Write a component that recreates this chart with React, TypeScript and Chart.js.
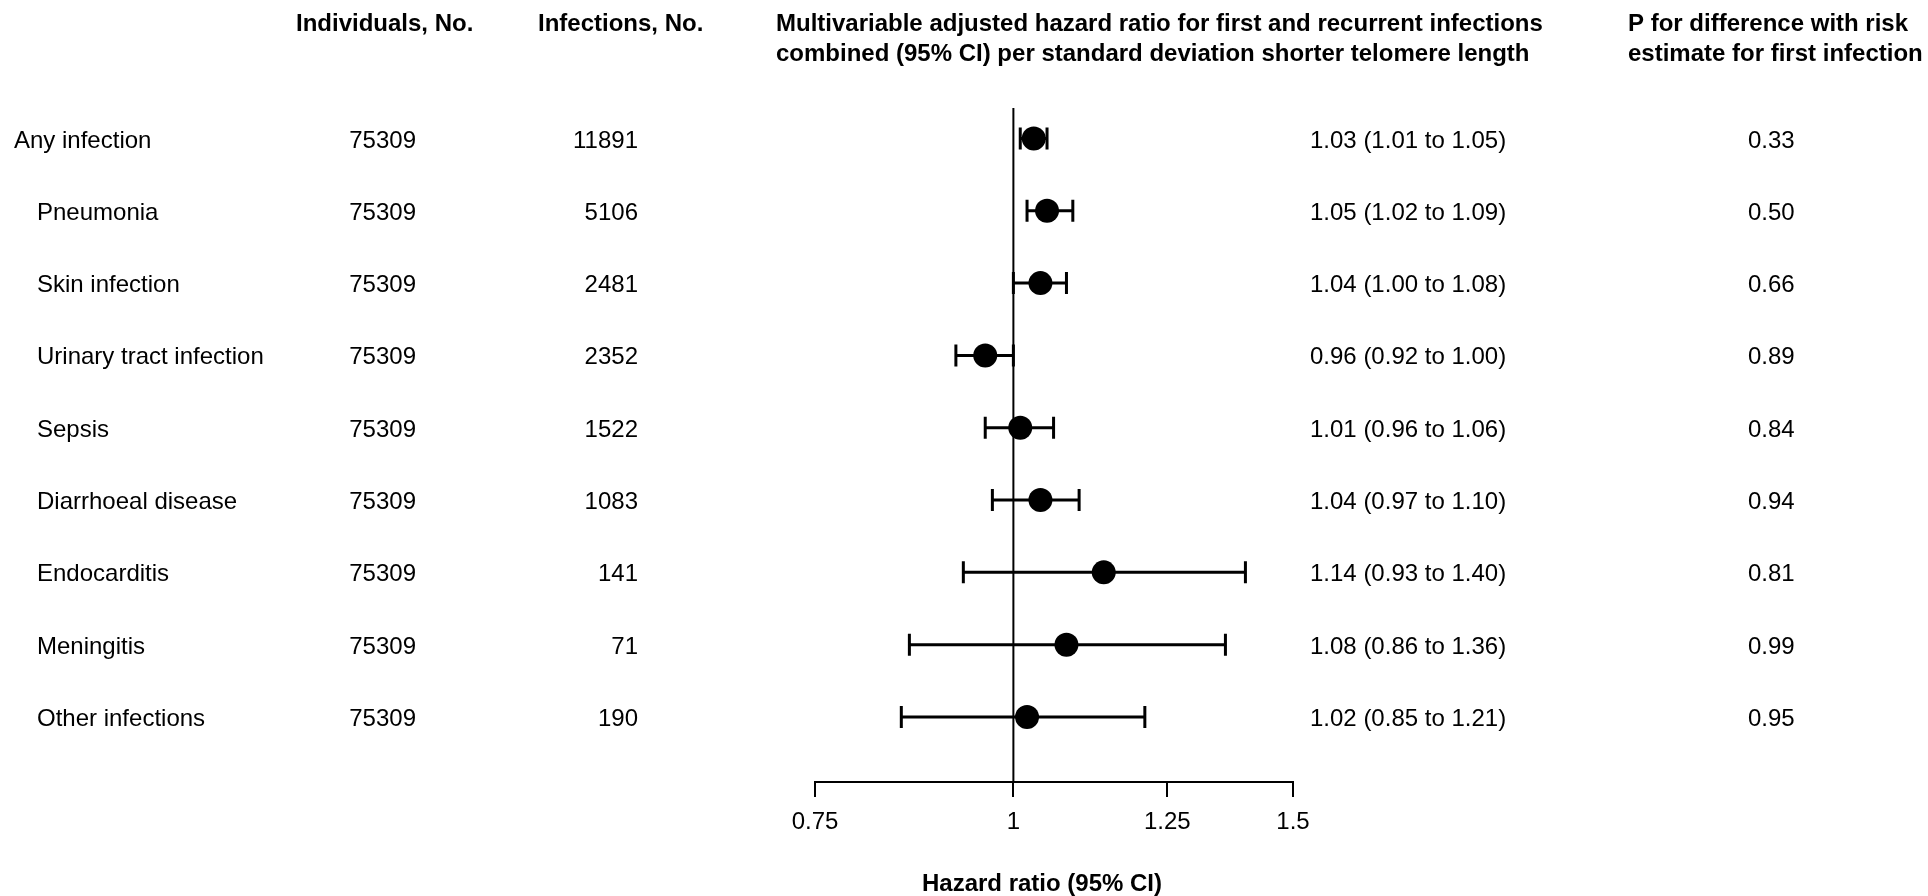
import React, { useEffect, useRef } from "react";
import { Chart, registerables } from "chart.js";

Chart.register(...registerables);

const FONT = '"Liberation Sans", Arial, Helvetica, sans-serif';

const categories = [
  "Any infection",
  "Pneumonia",
  "Skin infection",
  "Urinary tract infection",
  "Sepsis",
  "Diarrhoeal disease",
  "Endocarditis",
  "Meningitis",
  "Other infections",
];
const individuals = [75309, 75309, 75309, 75309, 75309, 75309, 75309, 75309, 75309];
const infections = [11891, 5106, 2481, 2352, 1522, 1083, 141, 71, 190];
const hazardRatio = [1.03, 1.05, 1.04, 0.96, 1.01, 1.04, 1.14, 1.08, 1.02];
const lowerCI = [1.01, 1.02, 1.0, 0.92, 0.96, 0.97, 0.93, 0.86, 0.85];
const upperCI = [1.05, 1.09, 1.08, 1.0, 1.06, 1.1, 1.4, 1.36, 1.21];
const pValues = ["0.33", "0.50", "0.66", "0.89", "0.84", "0.94", "0.81", "0.99", "0.95"];
const xTicks = [0.75, 1, 1.25, 1.5];

export default function App() {
  const ref = useRef<HTMLCanvasElement>(null);

  useEffect(() => {
    const canvas = ref.current;
    if (!canvas) return;

    const errorBarPlugin = {
      id: "errorBars",
      beforeDatasetsDraw(chart: any) {
        const ctx = chart.ctx;
        const xs = chart.scales.x;
        const ys = chart.scales.y;
        const area = chart.chartArea;
        ctx.save();
        ctx.strokeStyle = "#000";
        // reference line at HR = 1
        const x1 = xs.getPixelForValue(1);
        ctx.lineWidth = 2;
        ctx.beginPath();
        ctx.moveTo(x1, area.top);
        ctx.lineTo(x1, area.bottom);
        ctx.stroke();
        // CI bars
        ctx.lineWidth = 3;
        for (let i = 0; i < categories.length; i++) {
          const py = ys.getPixelForValue(i);
          const lo = xs.getPixelForValue(lowerCI[i]);
          const hi = xs.getPixelForValue(upperCI[i]);
          ctx.beginPath();
          ctx.moveTo(lo, py);
          ctx.lineTo(hi, py);
          ctx.moveTo(lo, py - 11);
          ctx.lineTo(lo, py + 11);
          ctx.moveTo(hi, py - 11);
          ctx.lineTo(hi, py + 11);
          ctx.stroke();
        }
        ctx.restore();
      },
    };

    const textPlugin = {
      id: "forestText",
      afterDraw(chart: any) {
        const ctx = chart.ctx;
        const ys = chart.scales.y;
        ctx.save();
        ctx.fillStyle = "#000";
        ctx.textBaseline = "alphabetic";

        // headers
        ctx.font = `bold 24px ${FONT}`;
        ctx.textAlign = "left";
        ctx.fillText("Individuals, No.", 296, 31);
        ctx.fillText("Infections, No.", 538, 31);
        ctx.fillText(
          "Multivariable adjusted hazard ratio for first and recurrent infections",
          776,
          31
        );
        ctx.fillText(
          "combined (95% CI) per standard deviation shorter telomere length",
          776,
          61
        );
        ctx.fillText("P for difference with risk", 1628, 31);
        ctx.fillText("estimate for first infection", 1628, 61);

        // axis title
        ctx.textAlign = "center";
        ctx.fillText("Hazard ratio (95% CI)", 1042, 891);

        // rows
        ctx.font = `24px ${FONT}`;
        for (let i = 0; i < categories.length; i++) {
          const by = ys.getPixelForValue(i) + 9;
          ctx.textAlign = "left";
          ctx.fillText(categories[i], i === 0 ? 14 : 37, by);
          ctx.textAlign = "right";
          ctx.fillText(String(individuals[i]), 416, by);
          ctx.fillText(String(infections[i]), 638, by);
          ctx.textAlign = "left";
          ctx.fillText(
            `${hazardRatio[i].toFixed(2)} (${lowerCI[i].toFixed(2)} to ${upperCI[i].toFixed(2)})`,
            1310,
            by
          );
          ctx.fillText(pValues[i], 1748, by);
        }
        ctx.restore();
      },
    };

    const chart = new Chart(canvas, {
      type: "scatter",
      data: {
        datasets: [
          {
            data: hazardRatio.map((v, i) => ({ x: v, y: i })),
            pointRadius: 12,
            pointHoverRadius: 12,
            pointBackgroundColor: "#000",
            pointBorderColor: "#000",
            pointBorderWidth: 0,
          },
        ],
      },
      options: {
        responsive: false,
        devicePixelRatio: 1,
        animation: false,
        events: [],
        layout: { padding: { left: 815, right: 635, top: 108, bottom: 0 } },
        plugins: {
          legend: { display: false },
          tooltip: { enabled: false },
        },
        scales: {
          x: {
            type: "logarithmic",
            min: 0.75,
            max: 1.5,
            afterBuildTicks: (s: any) => {
              s.ticks = xTicks.map((v) => ({ value: v }));
            },
            afterFit: (s: any) => {
              s.height = 114;
            },
            grid: {
              drawOnChartArea: false,
              drawTicks: true,
              tickLength: 15,
              color: "#000",
              lineWidth: 2,
            },
            border: { display: true, color: "#000", width: 2 },
            ticks: {
              color: "#000",
              font: { family: FONT, size: 24 },
              padding: 11,
              maxRotation: 0,
              autoSkip: false,
              callback: (v: any) => String(v),
            },
          },
          y: {
            type: "linear",
            display: false,
            reverse: true,
            min: -0.4218,
            max: 8.899,
          },
        },
      },
      plugins: [errorBarPlugin, textPlugin],
    } as any);

    return () => chart.destroy();
  }, []);

  return (
    <div style={{ position: "fixed", left: 0, top: 0, width: 1928, height: 896, background: "#fff" }}>
      <canvas ref={ref} width={1928} height={896} style={{ display: "block" }} />
    </div>
  );
}
